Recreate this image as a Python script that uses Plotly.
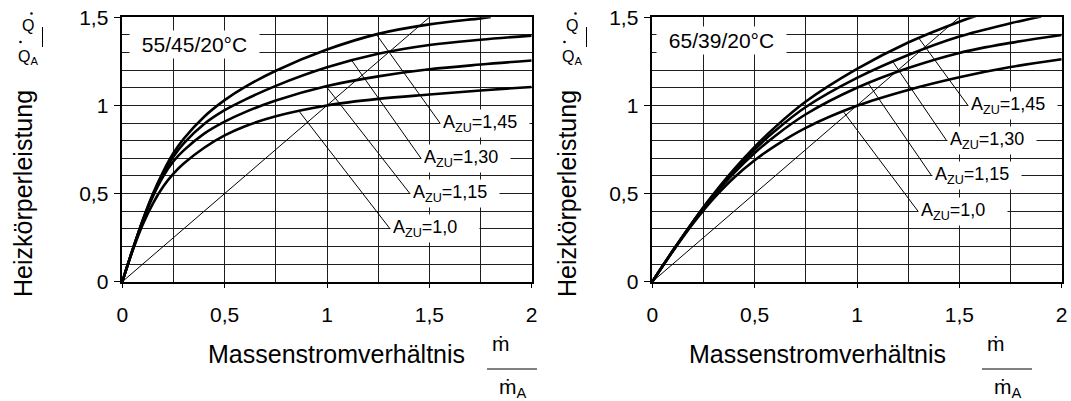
import plotly.graph_objects as go

W, H = 1071, 401
FONT = "Liberation Sans, Arial, sans-serif"

# ---------------- data: left panel 55/45/20°C ----------------
left_x = [0, 0.05, 0.1, 0.15, 0.2, 0.25, 0.3, 0.4, 0.5, 0.6, 0.75, 1.0, 1.25, 1.5, 1.75, 2.0]
left_a100 = [0, 0.175, 0.325, 0.445, 0.54, 0.613, 0.67, 0.76, 0.83, 0.882, 0.939, 1.0, 1.037, 1.062, 1.085, 1.105]
left_a115 = [0, 0.18, 0.345, 0.485, 0.598, 0.683, 0.745, 0.84, 0.908, 0.962, 1.028, 1.11, 1.165, 1.205, 1.232, 1.255]
left_a130 = [0, 0.18, 0.348, 0.492, 0.612, 0.71, 0.785, 0.895, 0.973, 1.033, 1.111, 1.216, 1.293, 1.343, 1.373, 1.396]
left_x145 = [0, 0.05, 0.1, 0.15, 0.2, 0.25, 0.3, 0.4, 0.5, 0.6, 0.75, 1.0, 1.25, 1.5, 1.75, 1.8]
left_a145 = [0, 0.18, 0.35, 0.50, 0.625, 0.73, 0.811, 0.936, 1.03, 1.105, 1.197, 1.317, 1.406, 1.46, 1.494, 1.502]

# ---------------- data: right panel 65/39/20°C ----------------
right_x = [0, 0.1, 0.2, 0.25, 0.3, 0.4, 0.5, 0.6, 0.75, 1.0, 1.25, 1.5, 1.75, 2.0]
right_a100 = [0, 0.172, 0.332, 0.405, 0.473, 0.591, 0.689, 0.771, 0.873, 0.998, 1.088, 1.16, 1.218, 1.262]
right_a115 = [0, 0.175, 0.34, 0.416, 0.488, 0.618, 0.73, 0.827, 0.95, 1.1, 1.212, 1.298, 1.355, 1.40]
right_x130 = [0, 0.1, 0.2, 0.25, 0.3, 0.4, 0.5, 0.6, 0.75, 1.0, 1.25, 1.5, 1.75, 1.9]
right_a130 = [0, 0.175, 0.342, 0.42, 0.494, 0.63, 0.75, 0.856, 0.991, 1.156, 1.286, 1.391, 1.466, 1.505]
right_x145 = [0, 0.1, 0.2, 0.25, 0.3, 0.4, 0.5, 0.6, 0.75, 1.0, 1.25, 1.5, 1.6]
right_a145 = [0, 0.175, 0.343, 0.423, 0.499, 0.639, 0.765, 0.877, 1.022, 1.207, 1.357, 1.475, 1.515]

# reference line  Q/QA = m/mA
diag_x = [0, 1.5]
diag_y = [0, 1.5]

# labels and leader lines
label_text = ["A<sub>ZU</sub>=1,45", "A<sub>ZU</sub>=1,30", "A<sub>ZU</sub>=1,15", "A<sub>ZU</sub>=1,0"]
left_label_x = [1.552, 1.459, 1.405, 1.308]
left_label_y = [0.9, 0.7, 0.5, 0.3]
left_leader_x0 = [1.243, 1.121, 0.998, 0.865]
left_leader_y0 = [1.40, 1.255, 1.105, 0.965]
right_label_x = [1.542, 1.438, 1.365, 1.298]
right_label_y = [1.0, 0.8, 0.6, 0.4]
right_leader_x0 = [1.30, 1.174, 1.055, 0.93]
right_leader_y0 = [1.385, 1.25, 1.125, 0.97]

panel_titles = ["55/45/20°C", "65/39/20°C"]
panel_title_x = [0.355, 0.34]
panel_title_y = [1.343, 1.37]

x_tickvals = [0, 0.5, 1, 1.5, 2]
x_ticktext = ["0", "0,5", "1", "1,5", "2"]
y_tickvals = [0, 0.5, 1, 1.5]
y_ticktext = ["0", "0,5", "1", "1,5"]

fig = go.Figure()

def add_curves(xa, ya, curves, diag, leaders):
    for xs, ys in curves:
        fig.add_trace(go.Scatter(x=xs, y=ys, mode="lines", xaxis=xa, yaxis=ya,
                                 line=dict(color="black", width=2.6, shape="spline", smoothing=1.0),
                                 showlegend=False, hoverinfo="skip"))
    fig.add_trace(go.Scatter(x=diag[0], y=diag[1], mode="lines", xaxis=xa, yaxis=ya,
                             line=dict(color="black", width=1), showlegend=False, hoverinfo="skip"))
    for x0, y0, x1, y1 in leaders:
        fig.add_trace(go.Scatter(x=[x0, x1], y=[y0, y1], mode="lines", xaxis=xa, yaxis=ya,
                                 line=dict(color="black", width=1), showlegend=False, hoverinfo="skip"))

add_curves("x", "y",
           [(left_x, left_a100), (left_x, left_a115), (left_x, left_a130), (left_x145, left_a145)],
           (diag_x, diag_y),
           list(zip(left_leader_x0, left_leader_y0, left_label_x, left_label_y)))
add_curves("x2", "y2",
           [(right_x, right_a100), (right_x, right_a115), (right_x130, right_a130), (right_x145, right_a145)],
           (diag_x, diag_y),
           list(zip(right_leader_x0, right_leader_y0, right_label_x, right_label_y)))

GRID = "#1e1e1e"

def xaxis_cfg(domain, anchor):
    return dict(domain=domain, range=[0, 2], anchor=anchor, automargin=False,
                tickmode="array", tickvals=x_tickvals, ticktext=x_ticktext,
                ticks="outside", ticklen=5, tickwidth=1, tickcolor="black",
                showline=True, linecolor="black", linewidth=1.5, mirror=True,
                showgrid=True, gridcolor=GRID, gridwidth=1, zeroline=False,
                minor=dict(tickmode="linear", tick0=0, dtick=0.25, showgrid=True, gridcolor=GRID, gridwidth=1, ticks=""),
                tickfont=dict(family=FONT, size=21, color="black"), ticklabelstandoff=8, fixedrange=True)

def yaxis_cfg(anchor, standoff):
    return dict(domain=[1 - 281.7 / H, 1 - 17.3 / H], range=[0, 1.5], anchor=anchor, automargin=False,
                tickmode="array", tickvals=y_tickvals, ticktext=y_ticktext,
                ticks="outside", ticklen=7, tickwidth=1, tickcolor="black",
                showline=True, linecolor="black", linewidth=1.5, mirror=True,
                showgrid=True, gridcolor=GRID, gridwidth=1, zeroline=False,
                minor=dict(tickmode="linear", tick0=0, dtick=0.1, showgrid=True, gridcolor=GRID, gridwidth=1, ticks=""),
                tickfont=dict(family=FONT, size=21, color="black"), ticklabelstandoff=standoff, fixedrange=True)

annotations = []
for xr, yr, lx, ly in (("x", "y", left_label_x, left_label_y), ("x2", "y2", right_label_x, right_label_y)):
    for t, x, y in zip(label_text, lx, ly):
        annotations.append(dict(xref=xr, yref=yr, x=x, y=y, text=t, showarrow=False,
                                xanchor="left", yanchor="middle", align="left", width=84,
                                bgcolor="white", borderpad=2,
                                font=dict(family=FONT, size=18, color="black")))

for i, (xr, yr) in enumerate((("x", "y"), ("x2", "y2"))):
    annotations.append(dict(xref=xr, yref=yr, x=panel_title_x[i], y=panel_title_y[i],
                            text=panel_titles[i], showarrow=False, xanchor="center", yanchor="middle",
                            width=125, bgcolor="white", borderpad=2,
                            font=dict(family=FONT, size=21, color="black")))

def P(px, py):
    return px / W, 1 - py / H

def txt(px, py, text, size, **kw):
    x, y = P(px, py)
    d = dict(xref="paper", yref="paper", x=x, y=y, text=text, showarrow=False,
             xanchor="center", yanchor="middle", font=dict(family=FONT, size=size, color="black"))
    d.update(kw)
    annotations.append(d)

shapes = []

def dot(px, py, r=1.3):
    x0, y0 = P(px - r, py + r)
    x1, y1 = P(px + r, py - r)
    shapes.append(dict(type="circle", xref="paper", yref="paper", x0=x0, y0=y0, x1=x1, y1=y1,
                       fillcolor="black", line=dict(color="black", width=0)))

def hline(px0, px1, py):
    x0, y0 = P(px0, py)
    x1, y1 = P(px1, py)
    shapes.append(dict(type="line", xref="paper", yref="paper", x0=x0, y0=y0, x1=x1, y1=y1,
                       line=dict(color="black", width=1)))

for off_y, off_x in ((0, 0), (544, 481)):
    # y-axis title with Q-dot / Q-dot_A
    txt(22.5 + off_y, 193.5, "Heizkörperleistung", 25, textangle=-90)
    txt(28 + off_y, 26, "Q", 16)
    dot(31.5 + off_y, 13.5)
    txt(27.5 + off_y, 57, "Q<sub>A</sub>", 16)
    dot(20.5 + off_y, 42)
    x0, y0 = P(42.5 + off_y, 27)
    x1, y1 = P(42.5 + off_y, 47)
    shapes.append(dict(type="line", xref="paper", yref="paper", x0=x0, y0=y0, x1=x1, y1=y1,
                       line=dict(color="black", width=1)))
    # x-axis title with m-dot / m-dot_A
    txt(467 + off_x, 354, "Massenstromverhältnis", 25, xanchor="right")
    fo = 0 if off_x == 0 else 495
    txt(501 + fo, 343, "ṁ", 21)
    txt(513 + fo, 388, "ṁ<sub>A</sub>", 21)
    hline(487 + fo, 537 + fo, 369)

fig.update_layout(
    width=W, height=H, margin=dict(l=0, r=0, t=0, b=0, autoexpand=False),
    paper_bgcolor="white", plot_bgcolor="white", showlegend=False,
    xaxis=xaxis_cfg([122.3 / W, 531.7 / W], "y"),
    yaxis=yaxis_cfg("x", 1),
    xaxis2=xaxis_cfg([652.3 / W, 1061.7 / W], "y2"),
    yaxis2=yaxis_cfg("x2", 1),
    annotations=annotations, shapes=shapes,
    font=dict(family=FONT, color="black"),
)

fig.write_html("out.html", config={"displayModeBar": False})
